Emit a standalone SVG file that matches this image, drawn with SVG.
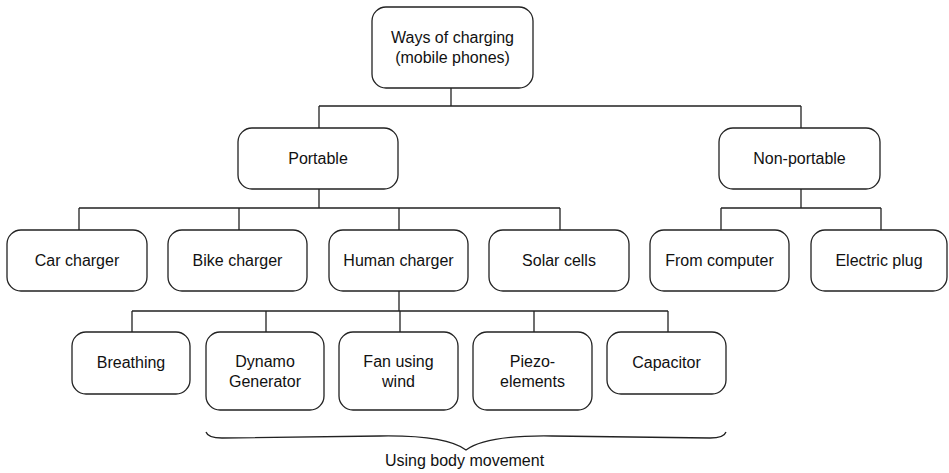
<svg xmlns="http://www.w3.org/2000/svg" width="949" height="473" viewBox="0 0 949 473">
<style>
.box{fill:#fff;stroke:#222;stroke-width:1.3}
.t{font-family:"Liberation Sans",Arial,sans-serif;font-size:16px;fill:#111;text-anchor:middle}
.c{fill:none;stroke:#222;stroke-width:1.3}
</style>
<rect width="949" height="473" fill="#fff"/>
<g id="connectors">
<path class="c" d="M451 88V106M319 106H801M319 106V128M801 106V128"/>
<path class="c" d="M319 189V208M79 208H560M79 208V230M239 208V230M399 208V230M560 208V230"/>
<path class="c" d="M801 189V208M721 208H881M721 208V230M881 208V230"/>
<path class="c" d="M399 291V311M132 311H668M132 311V332M266 311V332M400 311V332M534 311V332M668 311V332"/>
</g>
<g id="root"><rect class="box" x="372" y="7" width="161" height="81" rx="14"/><text class="t" x="452.5" y="43">Ways of charging</text><text class="t" x="452.5" y="63">(mobile phones)</text></g>
<g id="portable"><rect class="box" x="238" y="128" width="160" height="61" rx="14"/><text class="t" x="318" y="164">Portable</text></g>
<g id="nonportable"><rect class="box" x="719" y="128" width="161" height="61" rx="14"/><text class="t" x="799.5" y="164">Non-portable</text></g>
<g id="car"><rect class="box" x="7" y="230" width="140" height="61" rx="14"/><text class="t" x="77" y="266">Car charger</text></g>
<g id="bike"><rect class="box" x="168" y="230" width="139" height="61" rx="14"/><text class="t" x="237.5" y="266">Bike charger</text></g>
<g id="human"><rect class="box" x="329" y="230" width="139" height="61" rx="14"/><text class="t" x="398.5" y="266">Human charger</text></g>
<g id="solar"><rect class="box" x="489" y="230" width="140" height="61" rx="14"/><text class="t" x="559" y="266">Solar cells</text></g>
<g id="computer"><rect class="box" x="650" y="230" width="139" height="61" rx="14"/><text class="t" x="719.5" y="266">From computer</text></g>
<g id="plug"><rect class="box" x="811" y="230" width="136" height="61" rx="14"/><text class="t" x="879" y="266">Electric plug</text></g>
<g id="breathing"><rect class="box" x="72" y="332" width="118" height="62" rx="14"/><text class="t" x="131" y="368">Breathing</text></g>
<g id="dynamo"><rect class="box" x="206" y="332" width="118" height="78" rx="14"/><text class="t" x="265" y="367">Dynamo</text><text class="t" x="265" y="387">Generator</text></g>
<g id="fan"><rect class="box" x="339" y="332" width="119" height="78" rx="14"/><text class="t" x="398.5" y="367">Fan using</text><text class="t" x="398.5" y="387">wind</text></g>
<g id="piezo"><rect class="box" x="473" y="332" width="119" height="78" rx="14"/><text class="t" x="532.5" y="367">Piezo-</text><text class="t" x="532.5" y="387">elements</text></g>
<g id="capacitor"><rect class="box" x="607" y="332" width="119" height="62" rx="14"/><text class="t" x="666.5" y="368">Capacitor</text></g>
<g id="brace">
<path class="c" d="M206 432Q208 438 222 438Q300 437 380 436Q446 435 466 450Q486 435 552 436Q632 437 710 438Q724 438 726 432"/>
<text class="t" x="464.5" y="466">Using body movement</text>
</g>
</svg>
